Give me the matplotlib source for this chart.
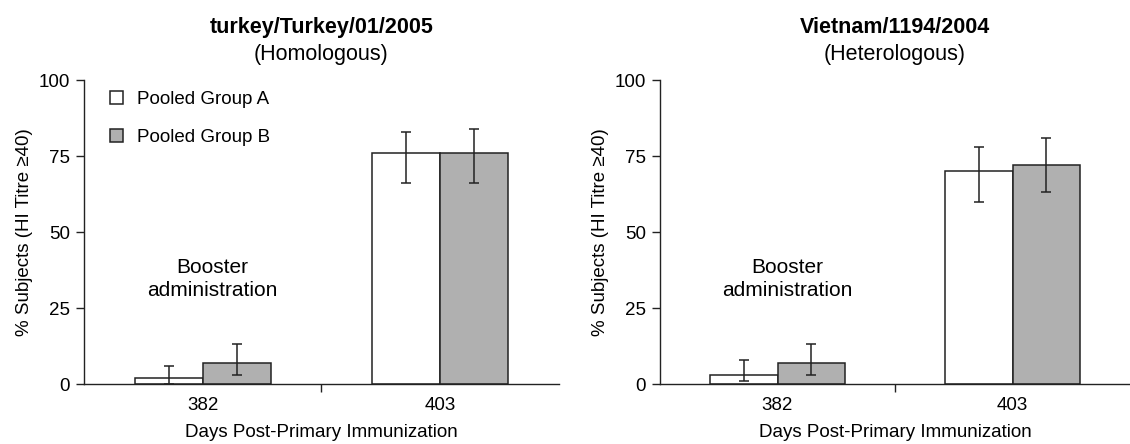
import matplotlib
matplotlib.use("Agg")
import matplotlib.pyplot as plt
import numpy as np

plt.rcParams["font.family"] = ["Liberation Sans", "DejaVu Sans"]
plt.rcParams["font.size"] = 13.5

# data
days = ["382", "403"]
group_names = ["Pooled Group A", "Pooled Group B"]

# turkey/Turkey/01/2005 (homologous)
homo_a = [2, 76]
homo_a_lo = [0, 66]
homo_a_hi = [6, 83]
homo_b = [7, 76]
homo_b_lo = [3, 66]
homo_b_hi = [13, 84]

# Vietnam/1194/2004 (heterologous)
het_a = [3, 70]
het_a_lo = [1, 60]
het_a_hi = [8, 78]
het_b = [7, 72]
het_b_lo = [3, 63]
het_b_hi = [13, 81]

panels = [
    ("turkey/Turkey/01/2005", "(Homologous)",
     (homo_a, homo_a_lo, homo_a_hi), (homo_b, homo_b_lo, homo_b_hi)),
    ("Vietnam/1194/2004", "(Heterologous)",
     (het_a, het_a_lo, het_a_hi), (het_b, het_b_lo, het_b_hi)),
]

axis_col = "#222222"
gray = "#b0b0b0"
width = 0.286

fig = plt.figure(figsize=(11.3, 4.44), dpi=100)
ax_rects = [[0.0743, 0.1351, 0.4204, 0.6847],
            [0.5841, 0.1351, 0.4159, 0.6847]]

for i, (title, subtitle, ga, gb) in enumerate(panels):
    ax = fig.add_axes(ax_rects[i])
    x = np.arange(len(days))
    handles = []
    for off, (vals, lo, hi), col, name in [(-width / 2, ga, "white", group_names[0]),
                                           (width / 2, gb, gray, group_names[1])]:
        vals = np.array(vals, float)
        yerr = [vals - np.array(lo), np.array(hi) - vals]
        b = ax.bar(x + off, vals, width, color=col, edgecolor=axis_col,
                   linewidth=1.1, label=name, zorder=2)
        ax.errorbar(x + off, vals, yerr=yerr, fmt="none", ecolor=axis_col,
                    elinewidth=1.1, capsize=3.3, capthick=1.1, zorder=3)
        handles.append(b)

    ax.set_xlim(-0.5, 1.5)
    ax.set_ylim(0, 100)
    ax.set_yticks([0, 25, 50, 75, 100])
    ax.set_xticks([0.5], minor=False)
    ax.set_xticks([0, 1], minor=True)
    ax.set_xticklabels([""])
    ax.set_xticklabels(days, minor=True)
    ax.tick_params(axis="x", which="minor", length=0, pad=9)
    ax.tick_params(axis="x", which="major", length=6, width=1, color=axis_col)
    ax.tick_params(axis="y", length=6, width=1, color=axis_col, pad=4)
    for s in ["top", "right"]:
        ax.spines[s].set_visible(False)
    for s in ["left", "bottom"]:
        ax.spines[s].set_color(axis_col)
        ax.spines[s].set_linewidth(1)
    ax.set_xlabel("Days Post-Primary Immunization")
    ax.xaxis.set_label_coords(0.5, -0.13)
    ax.set_ylabel("% Subjects (HI Titre \u226540)")
    ax.yaxis.set_label_coords(-51 / (ax_rects[i][2] * 1130), 0.5)

    ax.text(0.5, 1.173, title, transform=ax.transAxes, ha="center",
            va="center", fontweight="bold", fontsize=15.5)
    ax.text(0.5, 1.083, subtitle, transform=ax.transAxes, ha="center",
            va="center", fontsize=15.5)
    ax.text(0.04, 34.5, "Booster\nadministration", ha="center", va="center",
            fontsize=15, linespacing=1.25)

    if i == 0:
        ax.legend(handles=handles, loc="upper left", bbox_to_anchor=(0.02, 1.02),
                  frameon=False, handlelength=0.7, handleheight=0.7,
                  handletextpad=0.7, labelspacing=1.1, fontsize=13.5)

fig.savefig("out.png", dpi=100)
